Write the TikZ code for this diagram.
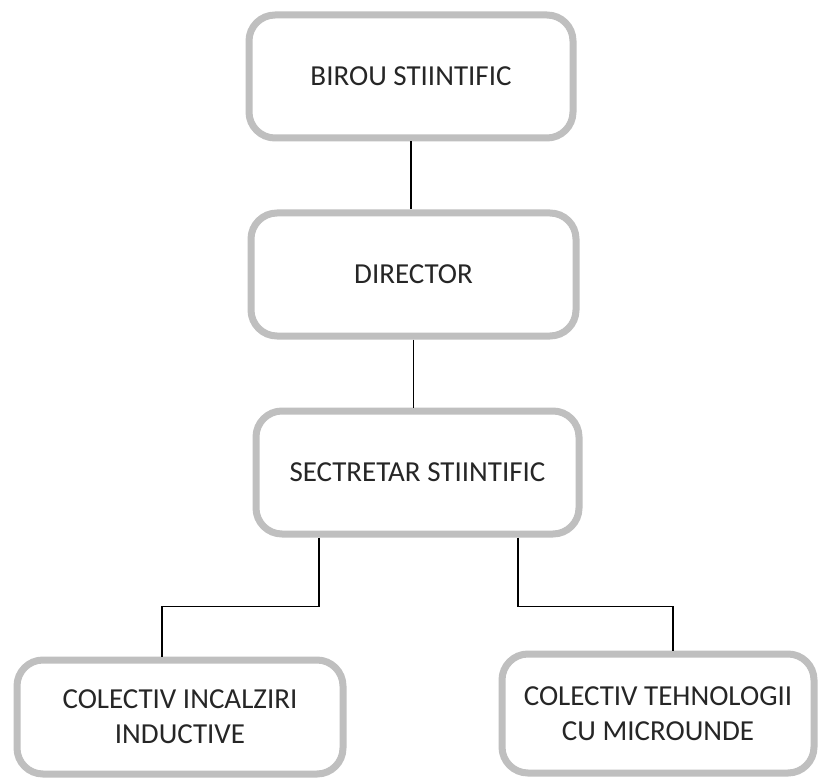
\documentclass[tikz,border=0pt]{standalone}
\usepackage{fontspec}
\setmainfont{Carlito}

\begin{document}
\begin{tikzpicture}[x=1pt, y=-1pt,
    box/.style={draw=gray!50, line width=7pt, rounded corners=26pt, fill=white,
      align=center, text=black!85, font=\fontsize{29}{35}\selectfont},
    link/.style={line width=1.6pt}]
    \useasboundingbox (0,0) rectangle (818,783);

    % casete
    \node[box, minimum width=324pt, minimum height=123pt] (birou) at (411, 76.5) {BIROU STIINTIFIC};
    \node[box, minimum width=325pt, minimum height=123pt] (director) at (413.5, 274.5) {DIRECTOR};
    \node[box, minimum width=323pt, minimum height=123pt] (secretar) at (417.5, 472.5) {SECTRETAR STIINTIFIC};
    \node[box, minimum width=326pt, minimum height=114pt] (incalziri) at (180, 717) {COLECTIV INCALZIRI\\INDUCTIVE};
    \node[box, minimum width=312pt, minimum height=119pt] (microunde) at (658, 713.5) {COLECTIV TEHNOLOGII\\CU MICROUNDE};

    % legaturi
    \draw[link] (birou.south) -- (birou.south |- director.north);
    \draw[link] (director.south) -- (director.south |- secretar.north);
    \draw[link] ([xshift=-98.5pt]secretar.south) -- ++(0,69) -| ([xshift=-18pt]incalziri.north);
    \draw[link] ([xshift=100.5pt]secretar.south) -- ++(0,69) -| ([xshift=15pt]microunde.north);
\end{tikzpicture}
\end{document}
